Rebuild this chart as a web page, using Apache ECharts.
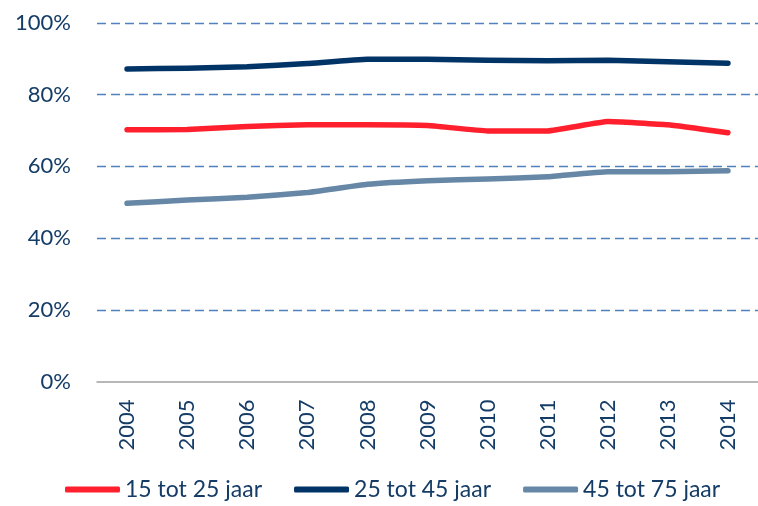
<!DOCTYPE html>
<html>
<head>
<meta charset="utf-8">
<script src="https://cdn.jsdelivr.net/npm/echarts@6/dist/echarts.min.js"></script>
<style>
  html, body { margin: 0; padding: 0; background: #fff; }
  #myChart { width: 758px; height: 506px; }
</style>
</head>
<body>
<div id="myChart"></div>
<script>
// jaren
const years = ['2004', '2005', '2006', '2007', '2008', '2009', '2010', '2011', '2012', '2013', '2014']
// percentages per leeftijdsgroep
const age15to25 = [70.2, 70.3, 71.1, 71.6, 71.6, 71.4, 69.9, 69.9, 72.5, 71.6, 69.4]
const age25to45 = [87.2, 87.4, 87.8, 88.7, 89.9, 89.9, 89.6, 89.5, 89.6, 89.2, 88.8]
const age45to75 = [49.7, 50.6, 51.4, 52.7, 55.0, 56.0, 56.5, 57.1, 58.5, 58.5, 58.8]
const seriesNames = ['15 tot 25 jaar', '25 tot 45 jaar', '45 tot 75 jaar']

const textColor = '#143c66'
const font = 'Lato'

const myChart = echarts.init(document.getElementById('myChart'))

function lineSeries(name, data, color) {
  return {
    name: name,
    type: 'line',
    data: data,
    symbol: 'none',
    smooth: 0.1,
    color: color,
    lineStyle: {
      color: color,
      width: 5.5,
      cap: 'round',
      join: 'round'
    }
  }
}

const option = {
  animation: false,
  grid: {
    left: 97,
    right: 0,
    top: 23,
    bottom: 124.5
  },
  legend: {
    bottom: 0,
    left: 60,
    itemWidth: 55,
    itemHeight: 6,
    itemGap: 32,
    icon: 'roundRect',
    textStyle: {
      color: textColor,
      fontFamily: font,
      fontSize: 23
    },
    data: seriesNames
  },
  xAxis: {
    type: 'category',
    data: years,
    boundaryGap: true,
    axisLine: {
      lineStyle: { color: '#a0a0a0', width: 1.5 }
    },
    axisTick: { show: false },
    axisLabel: {
      rotate: 90,
      margin: 18,
      color: textColor,
      fontFamily: font,
      fontSize: 22
    }
  },
  yAxis: {
    type: 'value',
    min: 0,
    max: 100,
    interval: 20,
    axisLine: { show: false },
    axisTick: { show: false },
    axisLabel: {
      formatter: '{value}%',
      margin: 26,
      color: textColor,
      fontFamily: font,
      fontSize: 22
    },
    splitLine: {
      showMinLine: false,
      lineStyle: {
        type: [9, 5],
        color: '#4f81bd',
        width: 1.3
      }
    }
  },
  series: [
    lineSeries(seriesNames[0], age15to25, '#ff1f2d'),
    lineSeries(seriesNames[1], age25to45, '#003366'),
    lineSeries(seriesNames[2], age45to75, '#6787a6')
  ]
}

myChart.setOption(option)
</script>
</body>
</html>
